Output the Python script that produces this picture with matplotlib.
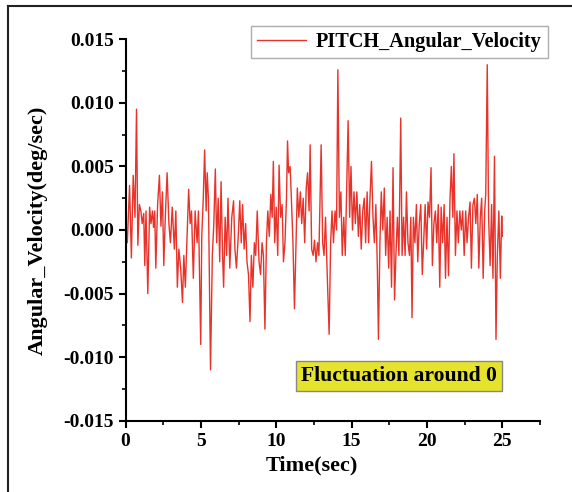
import numpy as np
import matplotlib
matplotlib.use("Agg")
import matplotlib.pyplot as plt
from matplotlib.ticker import MultipleLocator, FormatStrFormatter
from matplotlib.lines import Line2D

plt.rcParams['font.family'] = ['Liberation Serif', 'DejaVu Serif']
plt.rcParams['font.weight'] = 'bold'
plt.rcParams['axes.unicode_minus'] = False

# sample times (sec)
time_sec = [
    0.00, 0.12, 0.27, 0.39, 0.51, 0.63, 0.73, 0.82, 0.92, 1.02, 1.11, 1.21, 1.28, 1.36, 1.48, 1.60,
    1.69, 1.79, 1.86, 1.94, 2.01, 2.13, 2.25, 2.35, 2.45, 2.54, 2.64, 2.76, 2.88, 2.98, 3.10, 3.24,
    3.34, 3.44, 3.54, 3.66, 3.78, 3.87, 3.97, 4.07, 4.19, 4.29, 4.38, 4.50, 4.62, 4.75, 4.84, 4.99,
    5.06, 5.16, 5.25, 5.35, 5.42, 5.50, 5.64, 5.76, 5.86, 5.96, 6.05, 6.15, 6.25, 6.34, 6.44, 6.51,
    6.61, 6.71, 6.80, 6.92, 7.05, 7.17, 7.26, 7.36, 7.48, 7.58, 7.68, 7.77, 7.87, 7.97, 8.06, 8.16,
    8.26, 8.35, 8.45, 8.55, 8.64, 8.74, 8.86, 8.96, 9.06, 9.15, 9.25, 9.35, 9.44, 9.54, 9.64, 9.73,
    9.81, 9.90, 10.00, 10.10, 10.19, 10.29, 10.39, 10.48, 10.58, 10.68, 10.75, 10.82, 10.92, 11.02,
    11.11, 11.21, 11.31, 11.40, 11.50, 11.60, 11.69, 11.79, 11.89, 11.99, 12.08, 12.18, 12.25, 12.35,
    12.45, 12.54, 12.64, 12.74, 12.83, 12.98, 13.08, 13.17, 13.27, 13.37, 13.51, 13.61, 13.70, 13.80,
    13.90, 14.00, 14.09, 14.19, 14.29, 14.38, 14.48, 14.58, 14.67, 14.77, 14.87, 14.96, 15.06, 15.16,
    15.25, 15.35, 15.45, 15.54, 15.64, 15.74, 15.84, 15.93, 16.03, 16.13, 16.22, 16.32, 16.42, 16.51,
    16.61, 16.71, 16.78, 16.88, 16.97, 17.07, 17.17, 17.26, 17.36, 17.46, 17.55, 17.65, 17.75, 17.85,
    17.94, 18.04, 18.14, 18.26, 18.35, 18.45, 18.55, 18.64, 18.74, 18.84, 18.93, 19.01, 19.10, 19.20,
    19.30, 19.39, 19.49, 19.59, 19.69, 19.78, 19.88, 19.98, 20.07, 20.17, 20.27, 20.36, 20.46, 20.56,
    20.65, 20.75, 20.85, 20.94, 21.04, 21.14, 21.23, 21.33, 21.43, 21.53, 21.62, 21.72, 21.79, 21.89,
    21.99, 22.08, 22.18, 22.28, 22.37, 22.47, 22.57, 22.66, 22.76, 22.86, 22.95, 23.05, 23.15, 23.24,
    23.34, 23.44, 23.54, 23.63, 23.73, 23.83, 23.90, 24.00, 24.09, 24.19, 24.29, 24.38, 24.48, 24.58,
    24.67, 24.77, 24.87, 24.96, 25.00,
]

# pitch angular velocity at those times (x 1e-3 deg/sec)
pitch_milli = [
    0, -1, 3.5, -2.2, 4.3, 1, 9.5, -1.2, 2, 1.5, 0.5, 1.3, -2.8, 1.5, -5, 1.8,
    0.5, 1.5, 0.2, 1.5, -3, 2, 4.3, 0.3, 3, -2.8, 1, 4.5, 0.5, -1, 1.8, -1.5,
    1.5, -4.5, -1.5, -3, -5.7, -2, -4.5, -1, 3.2, 0.5, 1.5, -3.8, 1.5, -1, 1.5, -9,
    -0.5, 2.5, 6.3, 1.5, 4.5, 2.5, -11, -2, 0.5, 4.8, -1, 2.5, -2.5, 3.8, -2, -4.5,
    1, -2, 2.5, -3, 1, 2.3, -1.5, -3, -0.5, 2.3, -1, 2, -1.5, 0.5, -2.5, -3.5,
    -7.2, -2, -4.5, -1, -2, 1.5, -2.5, -3.5, -1, -2, -7.8, -1, 1.5, -0.5, 2.8, 1,
    5.4, -1, 1.8, -2, 5.1, 1, 2, -2.5, -1, 2.5, 7, 4.5, 5, 2,
    -1, -6.2, -1, 3.3, 1, 3, 0.5, 2.5, -1, 3.3, 4.5, 1.5, 6.7, -1.5,
    -2, -0.8, -2.5, -1, -2, 6.7, -1, -2, 1, -3, -8.2, -1, 1.5, -1,
    1.5, 0, 12.6, 1, 3, -2, 1, -2, 3, 8.6, 1, 5, 0, 3,
    0.5, 3, -0.5, 2, -1.5, 1.5, 2.5, -1, 3, -1, 2.5, 5.4, 1, -1,
    2, -3, -8.6, -1, 3, 0, 3.3, -2, 1, -3, 1.5, -4.5, 4.9, -5.5,
    -2, 1, -2, 8.8, -2, 1, -2, 3, -1, -2, 1, -6.9, 1, -1,
    2, -2.5, 0.5, 2, -3.5, -1, 2, -1.5, 2.2, 1, 4.9, -2.8, 0.5, 1.5,
    -1, 2, -4.5, 1.8, -1, 2, -3.8, 1, -3.6, 2.5, 5, 1, 6, -2,
    1.5, -1, 1.5, 0, 1.5, -2, 1.5, -1, 1, 2.2, -3, 2, 2.5, 0.5,
    2.8, -3, 1, 2.5, -3.8, 1.5, 2.8, 13, 1, -2.8, 2, -3.8, 5.8, -8.6,
    -2, 1.5, -3.8, 1.1, -0.5,
]

time = np.array(time_sec)
pitch = np.array(pitch_milli) / 1000.0

fig = plt.figure(figsize=(5.72, 4.92), dpi=100)
ax = fig.add_axes([125.5 / 572, 1 - 420.7 / 492, (540 - 125.5) / 572, (420.7 - 39.3) / 492])

ax.plot(time, pitch, color='#e8332b', lw=1.0, label='PITCH_Angular_Velocity')

ax.set_xlim(0, 27.5)
ax.set_ylim(-0.015, 0.015)
ax.xaxis.set_major_locator(MultipleLocator(5))
ax.xaxis.set_minor_locator(MultipleLocator(2.5))
ax.yaxis.set_major_locator(MultipleLocator(0.005))
ax.yaxis.set_minor_locator(MultipleLocator(0.0025))
ax.yaxis.set_major_formatter(FormatStrFormatter('%.3f'))

for s in ['top', 'right']:
    ax.spines[s].set_visible(False)
for s in ['left', 'bottom']:
    ax.spines[s].set_linewidth(1.5)
ax.tick_params(which='major', direction='out', length=5, width=1.5, labelsize=14)
ax.tick_params(which='minor', direction='out', length=3, width=1.2)

ax.set_xlabel('Time(sec)', fontsize=16, fontweight='bold', labelpad=8)
ax.xaxis.set_label_coords((312 - 125.5) / 414.5, -0.09)
ax.set_ylabel('Angular_Velocity(deg/sec)', fontsize=16, fontweight='bold', labelpad=11)

leg = ax.legend(loc='upper right', bbox_to_anchor=(548 / 572, 1 - 26 / 492),
                bbox_transform=fig.transFigure, borderaxespad=0, fancybox=False,
                fontsize=14.6, handlelength=2.4, handletextpad=0.5, borderpad=0.3)
leg.get_frame().set_edgecolor('#999999')
leg.get_frame().set_linewidth(1.0)

ax.text(399 / 572, 1 - 376 / 492, 'Fluctuation around 0', transform=fig.transFigure,
        ha='center', va='center', fontsize=15.6, fontweight='bold',
        bbox=dict(boxstyle='square,pad=0.25', facecolor='#e6e32c', edgecolor='#888888', lw=1))

# outer frame (left and top edges)
fig.add_artist(Line2D([8 / 572, 8 / 572], [0, 1 - 6 / 492], transform=fig.transFigure, color='#222222', lw=1.5))
fig.add_artist(Line2D([8 / 572, 1], [1 - 6 / 492, 1 - 6 / 492], transform=fig.transFigure, color='#222222', lw=1.5))

fig.savefig('out.png', dpi=100)
